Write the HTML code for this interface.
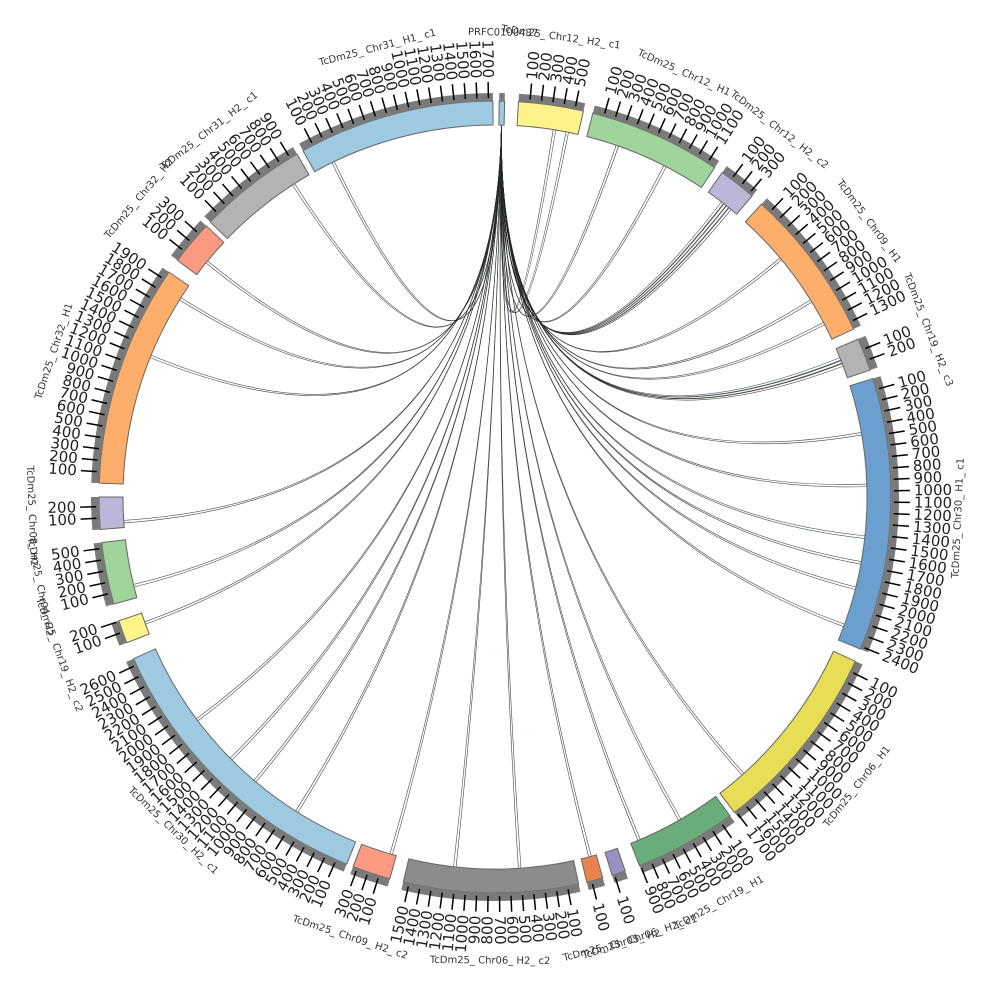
<!DOCTYPE html>
<html><head><meta charset="utf-8"><style>
html,body{margin:0;padding:0;background:#fff;}
svg{display:block;}
text{font-family:"DejaVu Sans","Liberation Sans",sans-serif;}
</style></head><body>
<svg id="s" width="1000" height="1000" xmlns="http://www.w3.org/2000/svg"></svg>
<script>
const cx=495,cy=497,NS="http://www.w3.org/2000/svg";
const s=document.getElementById('s');
function P(a,r){const t=(a-90)*Math.PI/180;return [cx+r*Math.cos(t),cy+r*Math.sin(t)];}
function arc(a0,a1,r0,r1){const p1=P(a0,r1),p2=P(a1,r1),p3=P(a1,r0),p4=P(a0,r0);const l=(a1-a0)>180?1:0;
return `M${p1[0]},${p1[1]} A${r1},${r1} 0 ${l} 1 ${p2[0]},${p2[1]} L${p3[0]},${p3[1]} A${r0},${r0} 0 ${l} 0 ${p4[0]},${p4[1]} Z`;}
let h='';
const segs=[
["PRFC0100437",0.6,1.4,"#9ecae1"],
["TcDm25_Chr12_H2_c1",3.4,12.9,"#fff38a"],
["TcDm25_Chr12_H1",14.3,33.7,"#9fd49b"],
["TcDm25_Chr12_H2_c2",35,40.5,"#bcb6d9"],
["TcDm25_Chr09_H1",42.3,64.9,"#fdae6b"],
["TcDm25_Chr19_H2_c3",66.5,71.3,"#b3b3b3"],
["TcDm25_Chr30_H1_c1",72.6,112.6,"#6a9fcf"],
["TcDm25_Chr06_H1",114.5,142.8,"#e8de55"],
["TcDm25_Chr19_H1",143.6,158.6,"#6aad7b"],
["TcDm25_Chr06_H2_c1",160.8,162.8,"#9c8fc4"],
["TcDm25_Chr05_H2",164.2,166.6,"#e8834f"],
["TcDm25_Chr06_H2_c2",167.8,193.4,"#8c8c8c"],
["TcDm25_Chr09_H2_c2",195.4,201,"#fb9a80"],
["TcDm25_Chr30_H2_c1",202,245.9,"#9ecae1"],
["TcDm25_Chr19_H2_c2",248.4,251.8,"#fff38a"],
["TcDm25_Chr04_H2",254.3,263.4,"#9fd49b"],
["TcDm25_Chr08_H2",265.3,270,"#bcb6d9"],
["TcDm25_Chr32_H1",272,304.6,"#fdae6b"],
["TcDm25_Chr32_H2",306.7,313.2,"#fb9a80"],
["TcDm25_Chr31_H2_c1",314,330,"#b3b3b3"],
["TcDm25_Chr31_H1_c1",331,359.7,"#9ecae1"]];
const tg=[9,11,19,27,37.5,38,38.5,39,50,58,62,68,68.5,69,80,88,96,100,104,110,138,150,157,165,176,186,196,212,220,225,233,250,256,266,292,302,309,327,334];
const lc=["#222","#333","#1b2a3a","#2a1b1b","#1f2f1f"];
tg.forEach((a,i)=>{for(let k=0;k<2;k++){const b=a+k*0.4;const p0=P(1,372),p1=P(b,372);
h+=`<path d="M${p0[0]},${p0[1]} Q${cx},${cy} ${p1[0]},${p1[1]}" fill="none" stroke="${lc[(i+k)%5]}" stroke-width="0.6" stroke-opacity="0.85"/>`;}});
segs.forEach(g=>{const [n,a0,a1,c]=g;
h+=`<path d="${arc(a0,a1,372,396)}" fill="${c}" stroke="#666" stroke-width="1"/>`;
h+=`<path d="${arc(a0,a1,396,404)}" fill="#7a7a7a"/>`;
const N=Math.floor((a1-a0)/1.65);
for(let i=1;i<=N;i++){const a=a0+i*1.65;const q0=P(a,399),q1=P(a,415),q2=P(a,419);
h+=`<line x1="${q0[0]}" y1="${q0[1]}" x2="${q1[0]}" y2="${q1[1]}" stroke="#000" stroke-width="1.5"/>`;
const r=(a<180)?a-90:a+90,an=(a<180)?'start':'end';
h+=`<text x="${q2[0]}" y="${q2[1]}" font-size="15" text-anchor="${an}" dominant-baseline="central" transform="rotate(${r} ${q2[0]} ${q2[1]})" fill="#222">${i*100}</text>`;}
const am=(a0+a1)/2,lp=P(am,464);const rr=(am>90&&am<270)?am-180:am;
h+=`<text x="${lp[0]}" y="${lp[1]}" font-size="10" text-anchor="middle" dominant-baseline="central" transform="rotate(${rr} ${lp[0]} ${lp[1]})" fill="#333">${n.replace(/_/g,'_ ')}</text>`;
});
s.innerHTML=h;
</script>
</body></html>
